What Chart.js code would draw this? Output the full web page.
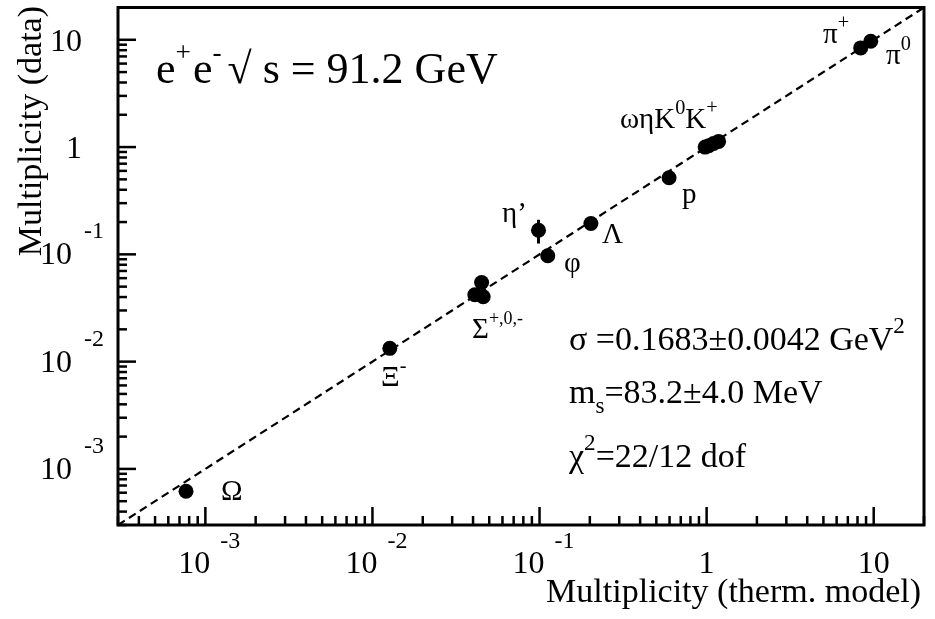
<!DOCTYPE html>
<html>
<head>
<meta charset="utf-8">
<script src="https://cdn.jsdelivr.net/npm/chart.js@4/dist/chart.umd.min.js"></script>
<style>
html,body{margin:0;padding:0;background:#fff;}
#wrap{width:935px;height:619px;position:relative;}
</style>
</head>
<body>
<div id="wrap"><canvas id="c" width="935" height="619"></canvas></div>
<script>
// ---- data ----
const particles = ['Omega','Xi-','Sigma+','Sigma0','Sigma-','eta\'','phi','Lambda','p','omega','eta','K0','K+','pi+','pi0'];
const modelMult = [7.66e-4, 0.0127, 0.045, 0.041, 0.046, 0.0986, 0.112, 0.203, 0.596, 0.98, 1.03, 1.10, 1.18, 8.36, 9.6];
const dataMult  = [6.2e-4, 0.0133, 0.0547, 0.042, 0.0403, 0.168, 0.097, 0.194, 0.518, 1.0, 1.03, 1.08, 1.13, 8.4, 9.7];
const dataErr   = [0, 0, 0, 0, 0, 0.042, 0, 0, 0, 0, 0, 0, 0, 0, 0];
const fitX = [3e-4, 20];
const fitY = [3e-4, 20];
const axisMin = 3e-4, axisMax = 20;
const decades = [-4, -3, -2, -1, 0, 1];
const xTickBase = ['10','10','10','1','10'];
const xTickExp  = ['-3','-2','-1','',''];
const xTickVals = [1e-3, 1e-2, 1e-1, 1, 10];
const yTickBase = ['10','10','10','1','10'];
const yTickExp  = ['-3','-2','-1','',''];
const yTickVals = [1e-3, 1e-2, 1e-1, 1, 10];
const xTitle = 'Multiplicity (therm. model)';
const yTitle = 'Multiplicity (data)';

const SERIF = '"Liberation Serif","DejaVu Serif",serif';

function rich(ctx, x, y, parts, size, align, supRatio){
  const sr = supRatio || 0.62;
  let w = 0;
  for (const p of parts){
    ctx.font = (p[1] ? size*sr : size) + 'px ' + SERIF;
    w += ctx.measureText(p[0]).width + (p[2]||0);
  }
  let cx = x;
  if (align === 'center') cx = x - w/2;
  else if (align === 'right') cx = x - w;
  ctx.textAlign = 'left';
  ctx.textBaseline = 'alphabetic';
  for (const p of parts){
    const kind = p[1];
    ctx.font = (kind ? size*sr : size) + 'px ' + SERIF;
    let dy = 0;
    if (kind === '^') dy = -size*0.5;
    if (kind === '_') dy = size*0.28;
    ctx.fillText(p[0], cx, y + dy);
    cx += ctx.measureText(p[0]).width + (p[2]||0);
  }
}

const decor = {
  id: 'decor',
  beforeDatasetsDraw(chart){
    const ctx = chart.ctx, ys = chart.scales.y, xs = chart.scales.x;
    ctx.save();
    ctx.strokeStyle = '#000';
    ctx.lineWidth = 3;
    for (let i = 0; i < dataErr.length; i++){
      if (!dataErr[i]) continue;
      const px = xs.getPixelForValue(modelMult[i]);
      ctx.beginPath();
      ctx.moveTo(px, ys.getPixelForValue(dataMult[i] + dataErr[i]));
      ctx.lineTo(px, ys.getPixelForValue(dataMult[i] - dataErr[i]));
      ctx.stroke();
    }
    ctx.restore();
  },
  afterDraw(chart){
    const ctx = chart.ctx, a = chart.chartArea;
    const xs = chart.scales.x, ys = chart.scales.y;
    ctx.save();
    ctx.fillStyle = '#000';
    ctx.strokeStyle = '#000';
    // frame
    ctx.lineWidth = 3;
    ctx.strokeRect(a.left, a.top, a.right - a.left, a.bottom - a.top);
    // ticks
    ctx.lineWidth = 2.5;
    for (const d of decades){
      for (let m = 1; m <= 9; m++){
        const v = m * Math.pow(10, d);
        if (v < axisMin || v > axisMax) continue;
        const len = (m === 1) ? 18 : 9;
        const px = xs.getPixelForValue(v);
        ctx.beginPath(); ctx.moveTo(px, a.bottom); ctx.lineTo(px, a.bottom - len); ctx.stroke();
        const py = ys.getPixelForValue(v);
        ctx.beginPath(); ctx.moveTo(a.left, py); ctx.lineTo(a.left + len, py); ctx.stroke();
      }
    }
    // tick labels
    const TS = 32, ES = 24;
    for (let i = 0; i < xTickVals.length; i++){
      const px = xs.getPixelForValue(xTickVals[i]);
      if (xTickExp[i]){
        ctx.font = TS + 'px ' + SERIF; ctx.textAlign = 'right'; ctx.textBaseline = 'alphabetic';
        ctx.fillText(xTickBase[i], px + 5, a.bottom + 48);
        ctx.font = ES + 'px ' + SERIF; ctx.textAlign = 'left';
        ctx.fillText(xTickExp[i], px + 15, a.bottom + 23);
      } else {
        ctx.font = TS + 'px ' + SERIF; ctx.textAlign = 'center'; ctx.textBaseline = 'alphabetic';
        ctx.fillText(xTickBase[i], px, a.bottom + 48);
      }
    }
    for (let i = 0; i < yTickVals.length; i++){
      const py = ys.getPixelForValue(yTickVals[i]);
      if (yTickExp[i]){
        ctx.font = TS + 'px ' + SERIF; ctx.textAlign = 'right'; ctx.textBaseline = 'alphabetic';
        ctx.fillText(yTickBase[i], 72, py + 10);
        ctx.font = ES + 'px ' + SERIF; ctx.textAlign = 'left';
        ctx.fillText(yTickExp[i], 84, py - 16);
      } else {
        ctx.font = TS + 'px ' + SERIF; ctx.textAlign = 'right'; ctx.textBaseline = 'alphabetic';
        ctx.fillText(yTickBase[i], 82, py + 11);
      }
    }
    // axis titles
    ctx.font = '34px ' + SERIF; ctx.textAlign = 'right'; ctx.textBaseline = 'alphabetic';
    ctx.fillText(xTitle, a.right - 3, a.bottom + 77);
    ctx.save();
    ctx.translate(41, 6);
    ctx.rotate(-Math.PI/2);
    ctx.textAlign = 'right';
    ctx.fillText(yTitle, 0, 0);
    ctx.restore();

    // header
    rich(ctx, 156, 83, [['e'],['+','^',2],['e'],['-','^',6],['\u221A s = 91.2 GeV']], 44, 'left');

    // fit results
    rich(ctx, 569, 350, [['\u03C3 =0.1683\u00B10.0042 GeV'],['2','^']], 34, 'left', 0.68);
    rich(ctx, 569, 403, [['m'],['s','_'],['=83.2\u00B14.0 MeV']], 34, 'left', 0.68);
    rich(ctx, 569, 467, [['\u03C7'],['2','^'],['=22/12 dof']], 34, 'left', 0.68);

    // particle labels
    const LS = 29;
    rich(ctx, 221, 500, [['\u03A9']], LS, 'left', 0.7);
    rich(ctx, 381, 386, [['\u039E'],['-','^']], LS, 'left', 0.7);
    rich(ctx, 472, 338, [['\u03A3'],['+,0,-','^']], LS, 'left', 0.62);
    rich(ctx, 502, 222, [['\u03B7\u2019']], LS, 'left', 0.7);
    rich(ctx, 564, 272, [['\u03C6']], LS, 'left', 0.7);
    rich(ctx, 602, 243, [['\u039B']], LS, 'left', 0.7);
    rich(ctx, 682, 203, [['p']], LS, 'left', 0.7);
    rich(ctx, 620, 128, [['\u03C9\u03B7K'],['0','^'],['K'],['+','^']], LS, 'left', 0.7);
    rich(ctx, 823, 43, [['\u03C0'],['+','^']], LS, 'left', 0.7);
    rich(ctx, 886, 64, [['\u03C0'],['0','^']], LS, 'left', 0.7);
    ctx.restore();
  }
};

const pts = modelMult.map((x, i) => ({x: x, y: dataMult[i]}));
const fit = fitX.map((x, i) => ({x: x, y: fitY[i]}));

new Chart(document.getElementById('c'), {
  type: 'scatter',
  data: {
    datasets: [
      { label: 'data', data: pts, order: 0, pointRadius: 7.5, pointHoverRadius: 7.5,
        backgroundColor: '#000', borderColor: '#000', borderWidth: 0, pointStyle: 'circle' },
      { label: 'fit', data: fit, order: 1, type: 'line', showLine: true, pointRadius: 0,
        borderColor: '#000', borderWidth: 2.2, borderDash: [8, 5], fill: false, tension: 0 }
    ]
  },
  options: {
    responsive: false,
    animation: false,
    events: [],
    layout: { padding: { left: 118, top: 6, right: 11, bottom: 94 } },
    plugins: { legend: { display: false }, tooltip: { enabled: false } },
    scales: {
      x: { type: 'logarithmic', min: axisMin, max: axisMax, display: false },
      y: { type: 'logarithmic', min: axisMin, max: axisMax, display: false }
    }
  },
  plugins: [decor]
});
</script>
</body>
</html>
